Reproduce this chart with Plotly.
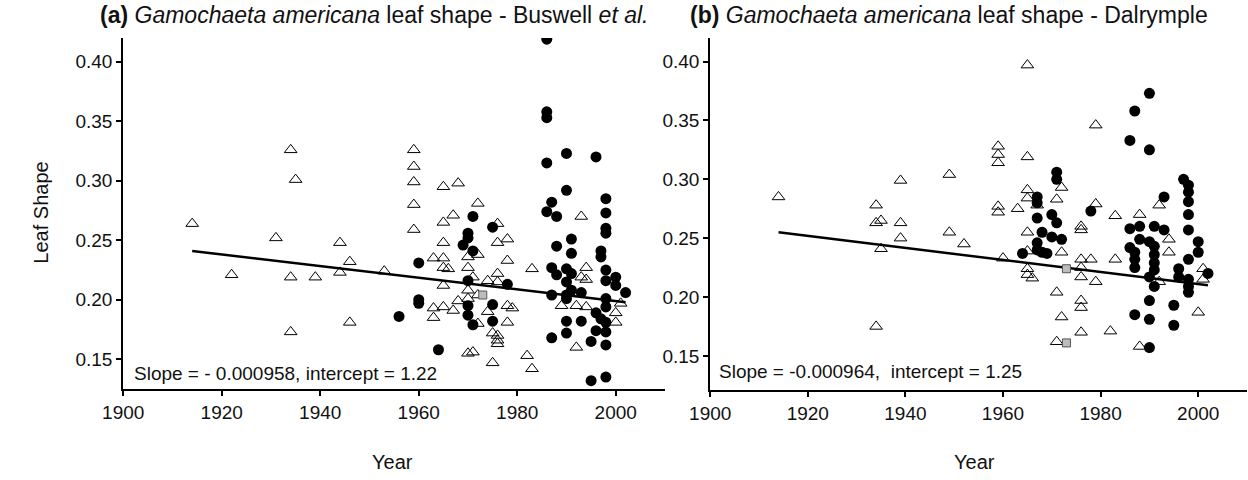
import plotly.graph_objects as go

# ---------------- Panel (a): Buswell et al. ----------------
tri_a_x = [1914, 1922, 1931, 1934, 1935, 1934, 1934, 1939, 1944, 1944, 1946, 1946, 1953,
           1959, 1959, 1959, 1959, 1959, 1963, 1963, 1963, 1965, 1968, 1972, 1967, 1965,
           1976, 1965, 1976, 1978, 1965, 1970, 1972, 1978, 1965, 1966, 1970, 1983, 1994,
           1976, 1993, 1971, 1993, 1994, 1974, 1976, 1965, 1970, 1972, 1968, 1970, 1965,
           1967, 1978, 1979, 1974, 1972, 1978, 1975, 1976, 1976, 1976, 1970, 1971, 1975,
           1982, 1983, 1989, 1992, 1994, 1992, 2000, 2000, 2001]
tri_a_y = [0.264, 0.221, 0.252, 0.326, 0.301, 0.219, 0.173, 0.219, 0.248, 0.223, 0.232, 0.181, 0.224,
           0.326, 0.312, 0.299, 0.280, 0.259, 0.235, 0.193, 0.185, 0.295, 0.298, 0.281, 0.271, 0.265,
           0.264, 0.248, 0.248, 0.251, 0.235, 0.236, 0.238, 0.233, 0.227, 0.226, 0.227, 0.226, 0.227,
           0.222, 0.270, 0.219, 0.219, 0.217, 0.216, 0.215, 0.212, 0.208, 0.204, 0.199, 0.201, 0.194,
           0.191, 0.195, 0.193, 0.190, 0.180, 0.181, 0.172, 0.170, 0.166, 0.163, 0.155, 0.156, 0.147,
           0.153, 0.142, 0.195, 0.195, 0.194, 0.160, 0.189, 0.181, 0.197]

circ_a_x = [1956, 1960, 1960, 1960, 1964, 1986, 1986, 1986, 1986, 1990, 1996, 1990, 1987, 1986,
            1988, 1998, 1998, 1998, 1998, 1971, 1975, 1970, 1970, 1969, 1971, 1988, 1991, 1991,
            1997, 1997, 1987, 1988, 1990, 1991, 1990, 1998, 1998, 2000, 2000, 2002, 1970, 1978,
            1987, 1990, 1991, 1993, 1998, 1998, 1990, 1970, 1975, 1970, 1971, 1975, 1990, 1993,
            1996, 1997, 1998, 1998, 1990, 1987, 1996, 1995, 1998, 1995, 1998]
circ_a_y = [0.186, 0.231, 0.200, 0.197, 0.158, 0.419, 0.358, 0.353, 0.315, 0.323, 0.320, 0.292, 0.282, 0.274,
            0.270, 0.285, 0.273, 0.260, 0.256, 0.270, 0.261, 0.256, 0.252, 0.246, 0.241, 0.245, 0.251, 0.239,
            0.241, 0.236, 0.227, 0.221, 0.226, 0.222, 0.215, 0.225, 0.216, 0.219, 0.212, 0.206, 0.216, 0.213,
            0.204, 0.204, 0.208, 0.206, 0.201, 0.194, 0.201, 0.195, 0.196, 0.187, 0.179, 0.182, 0.182, 0.182,
            0.189, 0.184, 0.181, 0.173, 0.172, 0.168, 0.174, 0.165, 0.162, 0.132, 0.135]

sq_a_x = [1973]
sq_a_y = [0.204]

fit_a_x = [1914, 2002]
fit_a_y = [0.241, 0.198]

# ---------------- Panel (b): Dalrymple ----------------
tri_b_x = [1914, 1939, 1949, 1965, 1979, 1959, 1959, 1959, 1965, 1972, 1965, 1965, 1967, 1971,
           1979, 1959, 1959, 1963, 1983, 1988, 1992, 1949, 1952, 1965, 1976, 1976, 1972, 1960,
           1965, 1965, 1965, 1966, 1976, 1978, 1976, 1976, 1979, 1983, 1994, 1994, 1992, 2001,
           2001, 2000, 1971, 1976, 1976, 1972, 1976, 1982, 1971, 1988, 1934, 1934, 1935, 1939,
           1939, 1935, 1934]
tri_b_y = [0.285, 0.299, 0.304, 0.397, 0.346, 0.328, 0.321, 0.314, 0.319, 0.293, 0.291, 0.284, 0.278, 0.283,
           0.279, 0.277, 0.272, 0.275, 0.269, 0.270, 0.278, 0.255, 0.245, 0.255, 0.260, 0.257, 0.238, 0.233,
           0.239, 0.224, 0.219, 0.216, 0.232, 0.232, 0.225, 0.217, 0.213, 0.232, 0.249, 0.238, 0.213, 0.224,
           0.215, 0.187, 0.204, 0.197, 0.191, 0.183, 0.170, 0.171, 0.162, 0.158, 0.278, 0.263, 0.265, 0.263,
           0.250, 0.241, 0.175]

circ_b_x = [1990, 1987, 1986, 1990, 1997, 1998, 1971, 1971, 1967, 1993, 1967, 1998, 1998, 1978,
            1998, 1998, 1967, 1970, 1971, 1968, 1970, 1972, 1967, 1964, 1967, 1968, 1969, 1986,
            1988, 1991, 1993, 1988, 1990, 1991, 1986, 1987, 1987, 1987, 1991, 1991, 1991, 1990,
            1991, 2000, 2000, 1998, 1996, 1996, 1998, 1998, 1998, 2002, 1990, 1987, 1990, 1995,
            1995, 1990]
circ_b_y = [0.373, 0.358, 0.333, 0.325, 0.300, 0.295, 0.306, 0.300, 0.285, 0.285, 0.280, 0.289, 0.281, 0.273,
            0.270, 0.257, 0.267, 0.270, 0.263, 0.255, 0.251, 0.249, 0.246, 0.237, 0.240, 0.238, 0.237, 0.258,
            0.260, 0.260, 0.257, 0.249, 0.247, 0.243, 0.242, 0.238, 0.232, 0.225, 0.236, 0.229, 0.223, 0.217,
            0.209, 0.247, 0.238, 0.232, 0.224, 0.217, 0.215, 0.209, 0.204, 0.220, 0.197, 0.185, 0.181, 0.193,
            0.176, 0.157]

sq_b_x = [1973, 1973]
sq_b_y = [0.224, 0.161]

fit_b_x = [1914, 2002]
fit_b_y = [0.255, 0.210]

x_ticks = [1900, 1920, 1940, 1960, 1980, 2000]
y_ticks = [0.15, 0.20, 0.25, 0.30, 0.35, 0.40]

FONT = "Liberation Sans, Arial, sans-serif"

fig = go.Figure()

def add_panel(xa, ya, tx, ty, cx, cy, sx, sy, fx, fy):
    fig.add_trace(go.Scatter(x=fx, y=fy, mode="lines", xaxis=xa, yaxis=ya,
                             line=dict(color="black", width=2.5), showlegend=False))
    fig.add_trace(go.Scatter(x=tx, y=ty, mode="markers", xaxis=xa, yaxis=ya, showlegend=False,
                             marker=dict(symbol="triangle-up-open", size=11, color="black",
                                         line=dict(width=1, color="black"))))
    fig.add_trace(go.Scatter(x=cx, y=cy, mode="markers", xaxis=xa, yaxis=ya, showlegend=False,
                             marker=dict(symbol="circle", size=11, color="black",
                                         line=dict(width=0))))
    fig.add_trace(go.Scatter(x=sx, y=sy, mode="markers", xaxis=xa, yaxis=ya, showlegend=False,
                             marker=dict(symbol="square", size=8, color="#bdbdbd",
                                         line=dict(width=1, color="#555555"))))

add_panel("x", "y", tri_a_x, tri_a_y, circ_a_x, circ_a_y, sq_a_x, sq_a_y, fit_a_x, fit_a_y)
add_panel("x2", "y2", tri_b_x, tri_b_y, circ_b_x, circ_b_y, sq_b_x, sq_b_y, fit_b_x, fit_b_y)

W, H = 1248, 480
axis_common = dict(showline=True, linecolor="black", linewidth=2, ticks="outside",
                   ticklen=5, tickwidth=2, tickcolor="black", showgrid=False, zeroline=False,
                   tickfont=dict(family=FONT, size=19, color="#111"))

fig.update_layout(
    width=W, height=H,
    margin=dict(l=0, r=0, t=0, b=0),
    paper_bgcolor="white", plot_bgcolor="white",
    font=dict(family=FONT, color="#111"),
    xaxis=dict(domain=[104 / W, 655 / W], range=[1900, 2010], tickvals=x_ticks,
               anchor="y", **axis_common),
    yaxis=dict(domain=[(H - 389) / H, (H - 38) / H], range=[0.125, 0.42], tickvals=y_ticks,
               tickformat=".2f", anchor="x", **axis_common),
    xaxis2=dict(domain=[701 / W, 1247 / W], range=[1900, 2010], tickvals=x_ticks,
                anchor="y2", **axis_common),
    yaxis2=dict(domain=[(H - 390) / H, (H - 38) / H], range=[0.121, 0.42], tickvals=y_ticks,
                tickformat=".2f", anchor="x2", **axis_common),
)

ann = [
    dict(text="<b>(a)</b> <i>Gamochaeta americana</i> leaf shape - Buswell <i>et al.</i>",
         x=78 / W, y=(H - 15) / H, xanchor="left", yanchor="middle", font=dict(size=23)),
    dict(text="<b>(b)</b> <i>Gamochaeta americana</i> leaf shape - Dalrymple",
         x=678 / W, y=(H - 15) / H, xanchor="left", yanchor="middle", font=dict(size=23)),
    dict(text="Slope = - 0.000958, intercept = 1.22",
         x=113 / W, y=(H - 373) / H, xanchor="left", yanchor="middle", font=dict(size=19)),
    dict(text="Slope = -0.000964,  intercept = 1.25",
         x=708 / W, y=(H - 371) / H, xanchor="left", yanchor="middle", font=dict(size=19)),
    dict(text="Leaf Shape", textangle=-90, x=20 / W, y=(H - 213) / H,
         xanchor="center", yanchor="middle", font=dict(size=20)),
    dict(text="Year", x=378 / W, y=(H - 462) / H, xanchor="center", yanchor="middle",
         font=dict(size=20)),
    dict(text="Year", x=970 / W, y=(H - 462) / H, xanchor="center", yanchor="middle",
         font=dict(size=20)),
]
for a in ann:
    a.update(xref="paper", yref="paper", showarrow=False)
    a["font"] = dict(family=FONT, color="#111", **a["font"])
fig.update_layout(annotations=ann)

fig.write_html("out.html",
               config={"displayModeBar": False},
               post_script="document.body.style.margin='0';document.body.style.overflow='hidden';")
